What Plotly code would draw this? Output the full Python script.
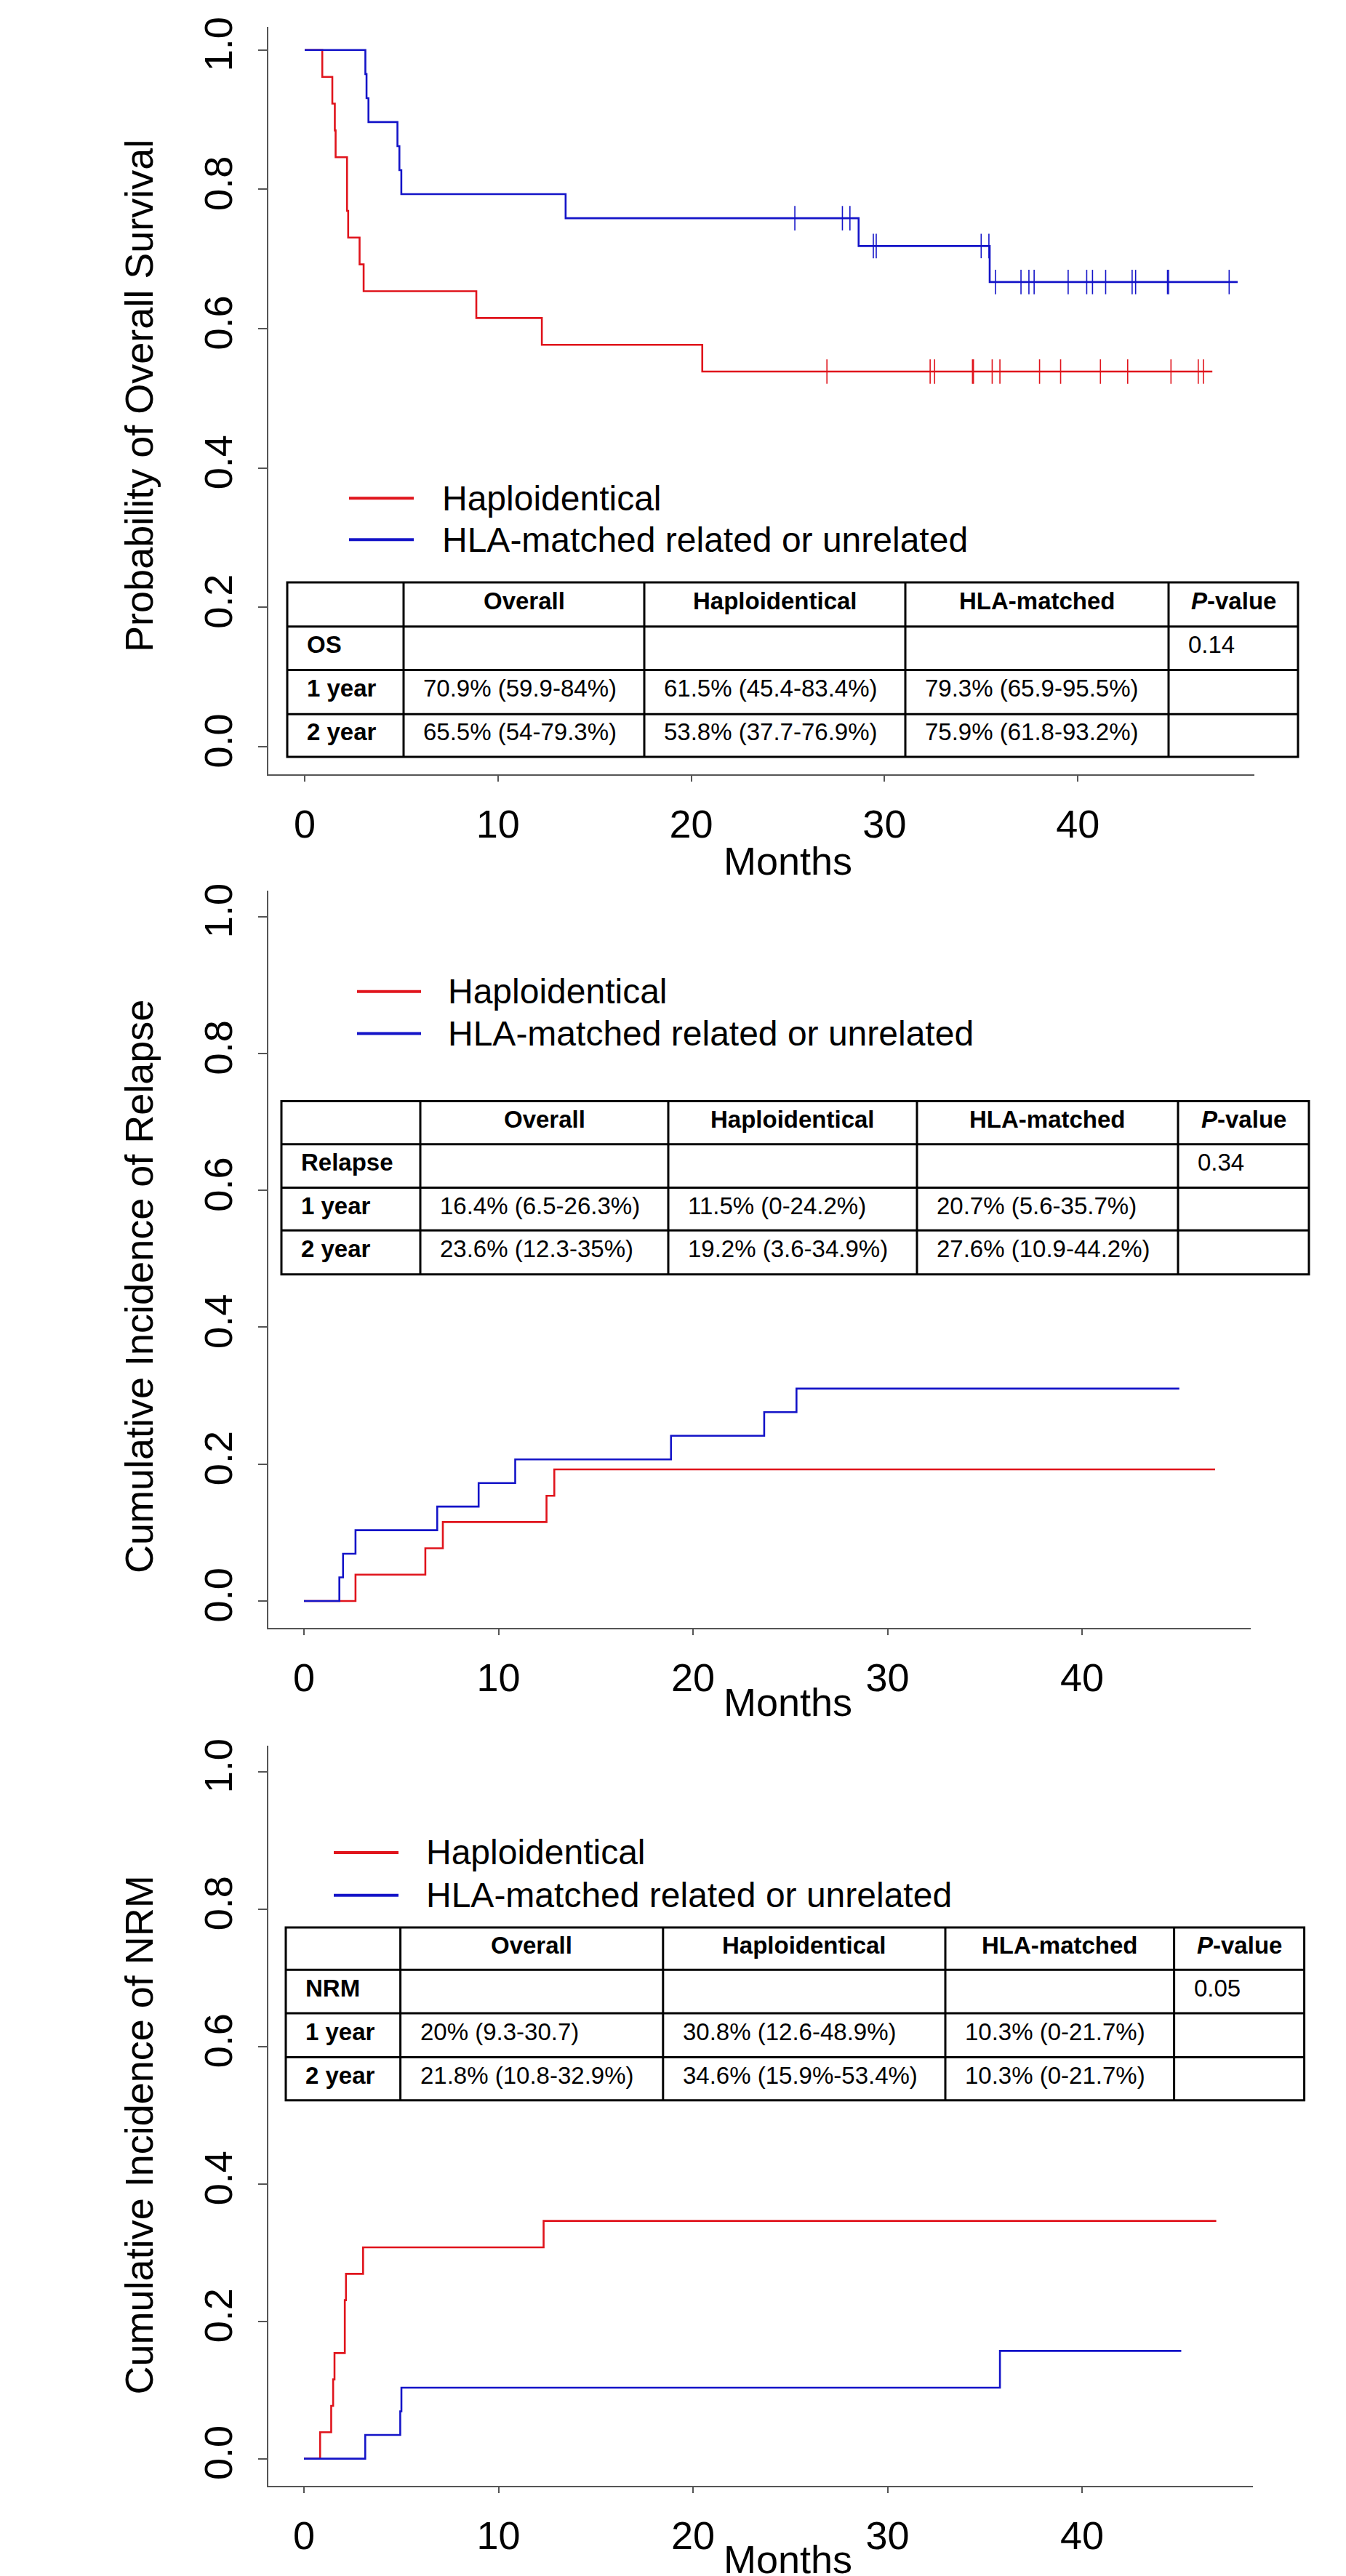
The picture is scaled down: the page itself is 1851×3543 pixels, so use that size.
import plotly.graph_objects as go

W, H = 1851, 3543
RED = "#e0141c"
BLUE = "#1414c8"
FONT = "Liberation Sans, Arial, Helvetica, sans-serif"

# ---------------- data ----------------
# Panel 1: overall survival (Kaplan-Meier)
os_haplo_time = [0, 0.91, 1.43, 1.56, 1.60, 2.19, 2.25, 2.84, 3.05, 8.88, 12.27, 20.57]
os_haplo_val = [1.0, 0.9615, 0.9231, 0.8846, 0.8462, 0.7692, 0.7308, 0.6923, 0.6538, 0.6154, 0.5769, 0.5385]
os_haplo_end = 46.96
os_haplo_censor = [27.02, 32.36, 32.59, 34.55, 34.60, 35.57, 35.97, 38.02, 39.11, 41.17, 42.58, 44.82, 46.23, 46.50]

os_hla_time = [0, 3.14, 3.20, 3.30, 4.80, 4.90, 5.00, 13.50, 28.66, 35.44]
os_hla_val = [1.0, 0.9655, 0.9310, 0.8966, 0.8621, 0.8276, 0.7931, 0.7586, 0.7187, 0.6670]
os_hla_end = 48.27
os_hla_censor = [25.36, 27.82, 28.21, 29.42, 29.57, 35.00, 35.40, 35.74, 37.06, 37.47, 37.74,
                 39.50, 40.46, 40.76, 41.44, 42.81, 42.99, 44.64, 44.70, 47.83]

# Panel 2: cumulative incidence of relapse
rel_haplo_time = [0, 2.65, 6.24, 7.14, 12.47, 12.87]
rel_haplo_val = [0.0, 0.0385, 0.0769, 0.1154, 0.1538, 0.1923]
rel_haplo_end = 46.84
rel_hla_time = [0, 1.82, 2.01, 2.65, 6.85, 8.98, 10.86, 18.87, 23.66, 25.32]
rel_hla_val = [0.0, 0.0345, 0.0690, 0.1034, 0.1379, 0.1724, 0.2069, 0.2414, 0.2759, 0.3103]
rel_hla_end = 45.0

# Panel 3: cumulative incidence of NRM
nrm_haplo_time = [0, 0.83, 1.40, 1.50, 1.57, 2.10, 2.16, 3.04, 12.32]
nrm_haplo_val = [0.0, 0.0385, 0.0769, 0.1154, 0.1538, 0.2308, 0.2692, 0.3077, 0.3462]
nrm_haplo_end = 46.9
nrm_hla_time = [0, 3.15, 4.95, 5.01, 35.78]
nrm_hla_val = [0.0, 0.0345, 0.0690, 0.1034, 0.1570]
nrm_hla_end = 45.1

x_ticks = [0, 10, 20, 30, 40]
y_ticks = [0.0, 0.2, 0.4, 0.6, 0.8, 1.0]
y_ticktext = ["0.0", "0.2", "0.4", "0.6", "0.8", "1.0"]

legend_labels = ["Haploidentical", "HLA-matched related or unrelated"]
y_titles = ["Probability of Overall Survival", "Cumulative Incidence of Relapse",
            "Cumulative Incidence of NRM"]
x_title = "Months"

table_header = ["", "Overall", "Haploidentical", "HLA-matched", "<i>P</i>-value"]
os_rows = [["OS", "", "", "", "0.14"],
           ["1 year", "70.9% (59.9-84%)", "61.5% (45.4-83.4%)", "79.3% (65.9-95.5%)", ""],
           ["2 year", "65.5% (54-79.3%)", "53.8% (37.7-76.9%)", "75.9% (61.8-93.2%)", ""]]
rel_rows = [["Relapse", "", "", "", "0.34"],
            ["1 year", "16.4% (6.5-26.3%)", "11.5% (0-24.2%)", "20.7% (5.6-35.7%)", ""],
            ["2 year", "23.6% (12.3-35%)", "19.2% (3.6-34.9%)", "27.6% (10.9-44.2%)", ""]]
nrm_rows = [["NRM", "", "", "", "0.05"],
            ["1 year", "20% (9.3-30.7)", "30.8% (12.6-48.9%)", "10.3% (0-21.7%)", ""],
            ["2 year", "21.8% (10.8-32.9%)", "34.6% (15.9%-53.4%)", "10.3% (0-21.7%)", ""]]

# ---------------- layout geometry (pixels) ----------------
panels = [
    dict(ax0=361, ax1=1717, t0=411, ppm=26.58, ytop=15, ybot=1047, y1=47, y0=1009,
         cols=[387, 547, 878, 1237, 1599, 1777], rows=[782, 843, 903, 964, 1023],
         leg_x=(472, 561), leg_y=(666, 723), leg_tx=598, ytitle_y=525, xtitle_y=1167),
    dict(ax0=361, ax1=1712, t0=410, ppm=26.75, ytop=1208, ybot=2226, y1=1243.6, y0=2188.6,
         cols=[379, 570, 911, 1253, 1612, 1792], rows=[1498.5, 1558, 1618, 1677, 1737.6],
         leg_x=(483, 571), leg_y=(1347, 1405), leg_tx=606, ytitle_y=1755, xtitle_y=2328),
    dict(ax0=361, ax1=1715, t0=410, ppm=26.75, ytop=2388, ybot=3410.7, y1=2424.5, y0=3373,
         cols=[385, 542.6, 903.8, 1292, 1606.6, 1785.6], rows=[2639.4, 2698, 2758, 2818.6, 2878],
         leg_x=(451, 540), leg_y=(2536, 2595), leg_tx=576, ytitle_y=2926, xtitle_y=None),
]


def px(x):
    return x / W


def py(y):
    return 1 - y / H


def step_at(times, vals, t):
    v = vals[0]
    for ti, vi in zip(times, vals):
        if ti <= t:
            v = vi
    return v


fig = go.Figure()

curves = [
    [(os_haplo_time, os_haplo_val, os_haplo_end, os_haplo_censor, RED),
     (os_hla_time, os_hla_val, os_hla_end, os_hla_censor, BLUE)],
    [(rel_haplo_time, rel_haplo_val, rel_haplo_end, [], RED),
     (rel_hla_time, rel_hla_val, rel_hla_end, [], BLUE)],
    [(nrm_haplo_time, nrm_haplo_val, nrm_haplo_end, [], RED),
     (nrm_hla_time, nrm_hla_val, nrm_hla_end, [], BLUE)],
]
tables = [os_rows, rel_rows, nrm_rows]

shapes = []
annotations = []
layout_axes = {}

for i, (p, cset, trows) in enumerate(zip(panels, curves, tables)):
    n = "" if i == 0 else str(i + 1)
    xa, ya = "x" + n, "y" + n
    for (tt, vv, tend, cens, col), name in zip(cset, legend_labels):
        fig.add_trace(go.Scatter(
            x=list(tt) + [tend], y=list(vv) + [vv[-1]], mode="lines",
            line=dict(color=col, width=2.6, shape="hv"), name=name,
            showlegend=False, xaxis=xa, yaxis=ya, hoverinfo="skip"))
        if cens:
            fig.add_trace(go.Scatter(
                x=cens, y=[step_at(tt, vv, c) for c in cens], mode="markers",
                marker=dict(symbol="line-ns", size=24, line=dict(color=col, width=1.6)),
                showlegend=False, xaxis=xa, yaxis=ya, hoverinfo="skip"))

    unit = p["y0"] - p["y1"]
    yr = [-(p["ybot"] - p["y0"]) / unit, 1 + (p["y1"] - p["ytop"]) / unit]
    xr = [(p["ax0"] - p["t0"]) / p["ppm"], (p["ax1"] - p["t0"]) / p["ppm"]]
    common = dict(showline=True, linecolor="#555555", linewidth=2, ticks="outside",
                  tickcolor="#555555", tickwidth=2, showgrid=False, zeroline=False,
                  tickfont=dict(family=FONT, size=54, color="black"))
    layout_axes["xaxis" + n] = dict(
        domain=[px(p["ax0"]), px(p["ax1"])], range=xr, anchor=ya,
        tickvals=x_ticks, ticklen=8, ticklabelstandoff=12, **common)
    layout_axes["yaxis" + n] = dict(
        domain=[py(p["ybot"]), py(p["ytop"])], range=yr, anchor=xa,
        tickvals=y_ticks, ticktext=y_ticktext, tickangle=-90, ticklen=12,
        ticklabelstandoff=14, **common)

    # axis titles
    annotations.append(dict(x=px(183), y=py(p["ytitle_y"]), xref="paper", yref="paper",
                            text=y_titles[i], textangle=-90, showarrow=False,
                            font=dict(family=FONT, size=54, color="black"),
                            xanchor="center", yanchor="middle"))
    if p["xtitle_y"] is None:
        # bottom panel: title sits on the bottom edge of the page
        annotations.append(dict(x=px(1075), y=0, xref="paper", yref="paper",
                                text=x_title, showarrow=False, borderpad=0,
                                font=dict(family=FONT, size=54, color="black"),
                                xanchor="center", yanchor="bottom"))
    else:
        annotations.append(dict(x=px(1075), y=py(p["xtitle_y"]), xref="paper", yref="paper",
                                text=x_title, showarrow=False,
                                font=dict(family=FONT, size=54, color="black"),
                                xanchor="center", yanchor="middle"))

    # legend
    for ly, col, lab in zip(p["leg_y"], [RED, BLUE], legend_labels):
        shapes.append(dict(type="line", xref="paper", yref="paper",
                           x0=px(p["leg_x"][0]), x1=px(p["leg_x"][1]), y0=py(ly), y1=py(ly),
                           line=dict(color=col, width=4)))
        annotations.append(dict(x=px(p["leg_tx"]), y=py(ly), xref="paper", yref="paper",
                                text=lab, showarrow=False, xanchor="left", yanchor="middle",
                                font=dict(family=FONT, size=48, color="black")))

    # table
    cols, rows = p["cols"], p["rows"]
    shapes.append(dict(type="rect", xref="paper", yref="paper",
                       x0=px(cols[0]), x1=px(cols[-1]), y0=py(rows[-1]), y1=py(rows[0]),
                       line=dict(color="black", width=3), fillcolor="white", layer="below"))
    for r in rows[1:-1]:
        shapes.append(dict(type="line", xref="paper", yref="paper",
                           x0=px(cols[0]), x1=px(cols[-1]), y0=py(r), y1=py(r),
                           line=dict(color="black", width=3)))
    for c in cols[1:-1]:
        shapes.append(dict(type="line", xref="paper", yref="paper",
                           x0=px(c), x1=px(c), y0=py(rows[0]), y1=py(rows[-1]),
                           line=dict(color="black", width=3)))
    for j, htxt in enumerate(table_header):
        if htxt:
            annotations.append(dict(
                x=px((cols[j] + cols[j + 1]) / 2), y=py((rows[0] + rows[1]) / 2 - 5),
                xref="paper", yref="paper", text="<b>" + htxt + "</b>", showarrow=False,
                xanchor="center", yanchor="middle",
                font=dict(family=FONT, size=33, color="black")))
    for k, row in enumerate(trows):
        yc = (rows[k + 1] + rows[k + 2]) / 2 - 5
        for j, cell in enumerate(row):
            if not cell:
                continue
            txt = "<b>" + cell + "</b>" if j == 0 else cell
            annotations.append(dict(
                x=px(cols[j] + 25), y=py(yc), xref="paper", yref="paper", text=txt,
                showarrow=False, xanchor="left", yanchor="middle",
                font=dict(family=FONT, size=33, color="black")))

fig.update_layout(
    width=W, height=H, margin=dict(l=0, r=0, t=0, b=0),
    paper_bgcolor="white", plot_bgcolor="white", showlegend=False,
    shapes=shapes, annotations=annotations, **layout_axes)

fig.write_html("out.html")
